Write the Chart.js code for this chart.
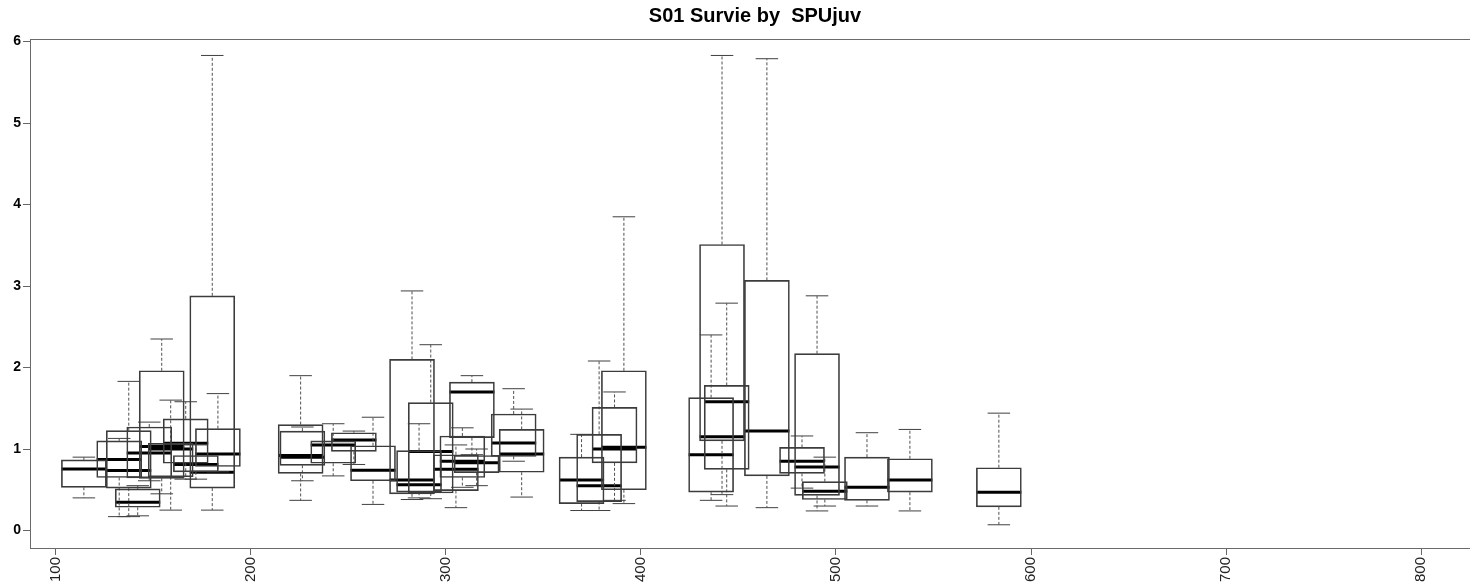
<!DOCTYPE html>
<html><head><meta charset="utf-8">
<script src="https://cdn.jsdelivr.net/npm/chart.js@4.4.0/dist/chart.umd.min.js"></script>
<style>
html,body{margin:0;padding:0;background:#fff;overflow:hidden;width:1470px;height:582px}
canvas{display:block}
</style></head>
<body><canvas id="c" width="1510" height="582"></canvas>
<script>
const TITLE = "S01 Survie by  SPUjuv";
// box centre on the SPUjuv axis
const POSITIONS = [114.5,132.6,137.5,142.1,148.0,154.4,159.0,166.7,171.9,180.3,183.2,
  225.6,226.5,242.3,252.9,262.7,
  282.7,286.3,292.3,305.2,308.5,313.4,315.8,334.8,338.9,
  369.6,378.6,386.5,391.3,
  436.0,441.6,444.0,464.6,482.6,490.3,494.3,515.9,537.9,583.5];
const WHISKER_LOW = [0.40,0.17,0.17,0.18,0.61,0.45,0.25,0.63,0.63,0.25,0.72,
  0.37,0.61,0.67,0.81,0.32,
  0.38,0.40,0.39,0.28,0.53,0.93,0.55,0.85,0.41,
  0.245,0.245,0.37,0.33,
  0.37,0.44,0.30,0.28,0.52,0.24,0.30,0.30,0.24,0.07];
const Q1 = [0.53,0.65,0.52,0.285,0.645,0.64,0.66,0.825,0.72,0.52,0.785,
  0.70,0.80,0.825,0.97,0.61,
  0.45,0.47,0.46,0.49,0.65,1.14,0.71,0.91,0.715,
  0.33,0.355,0.83,0.50,
  0.47,1.10,0.75,0.67,0.70,0.43,0.38,0.37,0.47,0.29];
const MEDIAN = [0.755,0.87,0.735,0.347,0.95,1.03,1.00,1.07,0.81,0.715,0.94,
  0.92,0.90,1.05,1.11,0.74,
  0.62,0.56,0.97,0.75,0.85,1.70,0.83,1.075,0.94,
  0.62,0.55,1.00,1.02,
  0.93,1.15,1.58,1.22,0.85,0.78,0.48,0.53,0.62,0.47];
const Q3 = [0.866,1.10,1.225,0.51,1.27,1.96,1.07,1.37,0.92,2.88,1.25,
  1.30,1.22,1.10,1.20,1.04,
  2.10,0.98,1.57,0.93,1.16,1.82,0.92,1.43,1.24,
  0.90,1.18,1.51,1.96,
  1.63,3.51,1.78,3.07,1.02,2.17,0.60,0.90,0.88,0.77];
const WHISKER_HIGH = [0.90,1.13,1.83,0.55,1.33,2.35,1.60,1.58,1.05,5.83,1.68,
  1.90,1.27,1.31,1.22,1.39,
  2.94,1.31,2.28,1.05,1.26,1.90,1.00,1.74,1.49,
  1.18,2.08,1.70,3.85,
  2.40,5.83,2.79,5.79,1.16,2.88,0.90,1.20,1.24,1.44];
const X_TICKS = [100,200,300,400,500,600,700,800];
const Y_TICKS = [0,1,2,3,4,5,6];

// styling constants (axis units)
const BOX_HALF = 11.53;
const CAP_HALF = 5.77;

const boxData = POSITIONS.map((p,i)=>({x:p, y:[Q1[i], Q3[i]]}));
const medianData = [], whiskerData = [], capData = [];
POSITIONS.forEach((p,i)=>{
  medianData.push({x:p-BOX_HALF,y:MEDIAN[i]},{x:p+BOX_HALF,y:MEDIAN[i]},{x:p,y:null});
  whiskerData.push({x:p,y:Q3[i]},{x:p,y:WHISKER_HIGH[i]},{x:p,y:null},
                   {x:p,y:Q1[i]},{x:p,y:WHISKER_LOW[i]},{x:p,y:null});
  capData.push({x:p-CAP_HALF,y:WHISKER_HIGH[i]},{x:p+CAP_HALF,y:WHISKER_HIGH[i]},{x:p,y:null},
               {x:p-CAP_HALF,y:WHISKER_LOW[i]},{x:p+CAP_HALF,y:WHISKER_LOW[i]},{x:p,y:null});
});

const framePlugin = {
  id:'frame',
  afterDatasetsDraw(chart){
    const {ctx, chartArea:a} = chart;
    ctx.save();
    ctx.strokeStyle='#6a6a6a'; ctx.lineWidth=1;
    ctx.strokeRect(Math.round(a.left)+0.5, Math.round(a.top)+0.5, a.right-a.left, Math.round(a.bottom-a.top));
    ctx.restore();
  }
};

new Chart(document.getElementById('c'), {
  type:'bar',
  data:{datasets:[
    {type:'bar', data:boxData, backgroundColor:'rgba(0,0,0,0)', borderColor:'#3c3c3c',
     borderWidth:1, borderSkipped:false, barThickness:45, grouped:false},
    {type:'line', data:whiskerData, borderColor:'#505050', borderWidth:1, borderDash:[3,2],
     pointRadius:0, spanGaps:false, tension:0, fill:false},
    {type:'line', data:capData, borderColor:'#404040', borderWidth:1,
     pointRadius:0, spanGaps:false, tension:0, fill:false},
    {type:'line', data:medianData, borderColor:'#000', borderWidth:3, borderCapStyle:'butt',
     pointRadius:0, spanGaps:false, tension:0, fill:false}
  ]},
  options:{
    responsive:false, animation:false, devicePixelRatio:1,
    layout:{padding:0},
    plugins:{
      legend:{display:false}, tooltip:{enabled:false},
      title:{display:true, text:TITLE, color:'#000',
        font:{family:'"Liberation Sans", Arial, sans-serif', size:20, weight:'bold', lineHeight:1.2},
        padding:{top:4,bottom:11}}
    },
    scales:{
      x:{type:'linear', min:86.88, max:845.5, offset:false,
        afterFit(s){ s.height = 34; },
        afterBuildTicks(s){ s.ticks = X_TICKS.map(v=>({value:v})); },
        grid:{display:true, drawOnChartArea:false, drawTicks:true, tickLength:7, color:'#666', offset:false},
        border:{display:false},
        ticks:{autoSkip:false, minRotation:90, maxRotation:90, padding:2, color:'#222',
          font:{family:'"Liberation Sans", Arial, sans-serif', size:15}}
      },
      y:{type:'linear', min:-0.215, max:6.032,
        afterFit(s){ s.width = 30; },
        afterBuildTicks(s){ s.ticks = Y_TICKS.map(v=>({value:v})); },
        grid:{display:true, drawOnChartArea:false, drawTicks:true, tickLength:7, color:'#666'},
        border:{display:false},
        ticks:{padding:2, color:'#000',
          font:{family:'"Liberation Sans", Arial, sans-serif', size:14, weight:'bold'}}
      }
    }
  },
  plugins:[framePlugin]
});
</script>
</body></html>
